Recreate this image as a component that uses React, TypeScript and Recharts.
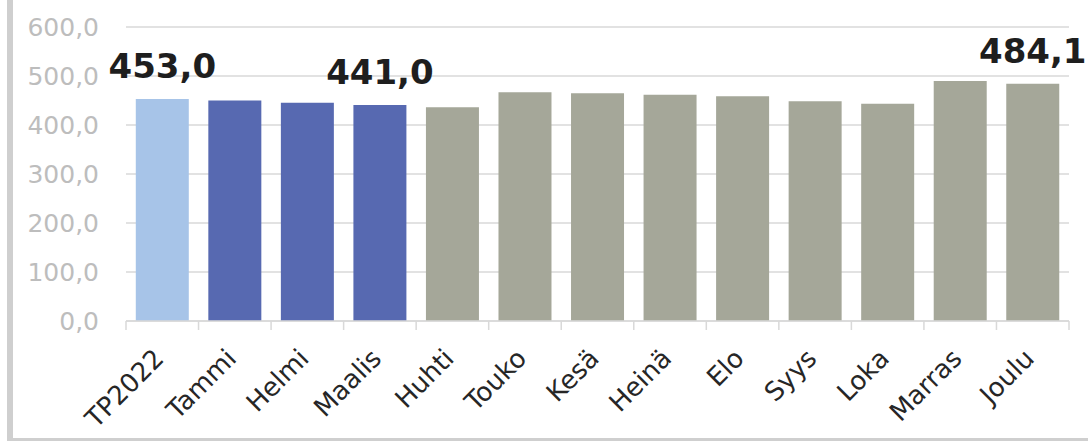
import React from 'react';
import { BarChart, Bar, XAxis, YAxis, CartesianGrid, Cell, LabelList } from 'recharts';

const categories = ['TP2022', 'Tammi', 'Helmi', 'Maalis', 'Huhti', 'Touko', 'Kesä', 'Heinä', 'Elo', 'Syys', 'Loka', 'Marras', 'Joulu'];
const values = [453.0, 449.8, 445.2, 441.0, 436.1, 466.7, 464.6, 461.9, 458.5, 448.3, 443.5, 489.8, 484.1];
const shownLabels: (number | null)[] = [453.0, null, null, 441.0, null, null, null, null, null, null, null, null, 484.1];
const groups = ['tp', 'toteuma', 'toteuma', 'toteuma', 'ennuste', 'ennuste', 'ennuste', 'ennuste', 'ennuste', 'ennuste', 'ennuste', 'ennuste', 'ennuste'];
const yTicks = [0, 100, 200, 300, 400, 500, 600];

const groupColors: Record<string, string> = {
  tp: '#A7C4E8',
  toteuma: '#5769B1',
  ennuste: '#A5A799',
};

const data = categories.map((name, i) => ({
  name,
  value: values[i],
  label: shownLabels[i],
  group: groups[i],
}));

const fmt = (v: number) => v.toFixed(1).replace('.', ',');
const FONT = '"DejaVu Sans", Verdana, sans-serif';
const GRID = '#D9D9D9';

const XTick = (props: any) => {
  const { x, y, payload, index, visibleTicksCount } = props;
  const off = payload?.offset ?? 0;
  const baseY = y - 26;
  const ax = x - 10;
  return (
    <g>
      <line x1={x - off} x2={x - off} y1={baseY} y2={baseY + 9} stroke={GRID} strokeWidth={1.5} />
      {index === (visibleTicksCount ?? categories.length) - 1 && (
        <line x1={x + off} x2={x + off} y1={baseY} y2={baseY + 9} stroke={GRID} strokeWidth={1.5} />
      )}
      <text
        x={ax}
        y={y}
        dy="0.71em"
        textAnchor="end"
        transform={`rotate(-45, ${ax}, ${y})`}
        fill="#262626"
        fontSize={26}
        fontFamily={FONT}
      >
        {payload.value}
      </text>
    </g>
  );
};

export default function App() {
  return (
    <div style={{ position: 'absolute', left: 0, top: 0, width: 1088, height: 441, background: '#fff' }}>
      <div style={{ position: 'absolute', left: 7, top: 0, width: 6, height: 441, background: '#CFCFCF' }} />
      <div style={{ position: 'absolute', left: 13, top: 438, width: 1075, height: 3, background: '#CFCFCF' }} />
      <div style={{ position: 'absolute', left: 0, top: 0 }}>
        <BarChart
          width={1088}
          height={441}
          data={data}
          margin={{ top: 27, right: 19, bottom: 0, left: 0 }}
          barCategoryGap="13.5%"
        >
          <CartesianGrid vertical={false} stroke={GRID} strokeWidth={1.5} />
          <YAxis
            width={126}
            domain={[0, 600]}
            ticks={yTicks}
            tickFormatter={fmt}
            axisLine={false}
            tickLine={false}
            tickSize={0}
            tickMargin={27}
            tick={{ fill: '#BDBDBD', fontSize: 25, fontFamily: FONT }}
          />
          <XAxis
            dataKey="name"
            height={120}
            interval={0}
            axisLine={{ stroke: GRID, strokeWidth: 1.5 }}
            tickLine={false}
            tickSize={8}
            tickMargin={18}
            tick={<XTick />}
          />
          <Bar dataKey="value" isAnimationActive={false}>
            {data.map((d, i) => (
              <Cell key={i} fill={groupColors[d.group]} />
            ))}
            <LabelList
              dataKey="label"
              position="top"
              offset={21}
              formatter={(v: any) => (v == null ? '' : fmt(Number(v)))}
              style={{ fill: '#1E1E1E', fontSize: 34, fontWeight: 'bold', fontFamily: FONT }}
            />
          </Bar>
        </BarChart>
      </div>
    </div>
  );
}
